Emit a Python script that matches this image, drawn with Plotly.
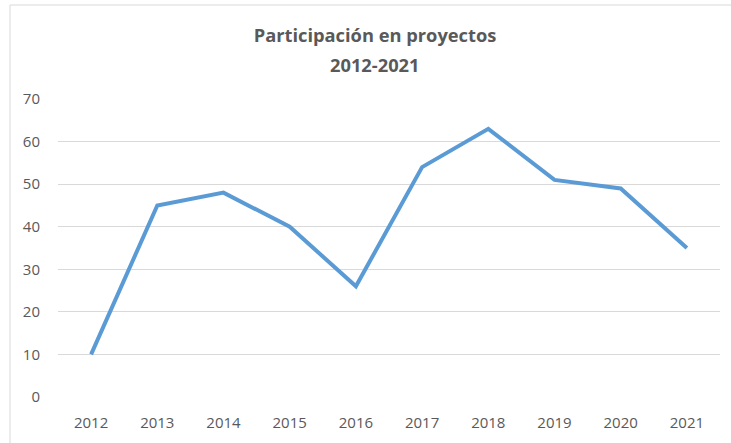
import plotly.graph_objects as go

years = ["2012", "2013", "2014", "2015", "2016", "2017", "2018", "2019", "2020", "2021"]
values = [10, 45, 48, 40, 26, 54, 63, 51, 49, 35]

L, R, T, B = 58, 720, 99, 397
W, H = 731, 443
pw, ph = R - L, B - T

def px(x):
    return (x - L) / pw

def py(y):
    return (B - y) / ph

fig = go.Figure()
fig.add_trace(go.Scatter(x=years, y=values, mode="lines",
                         line=dict(color="#5B9BD5", width=4), hoverinfo="x+y"))

title_font = dict(family="Open Sans, Liberation Sans, sans-serif", size=18.3, color="#595959")

fig.update_layout(
    width=W, height=H,
    margin=dict(l=L, r=W - R, t=T, b=H - B),
    paper_bgcolor="white", plot_bgcolor="white",
    showlegend=False,
    font=dict(family="Open Sans, Liberation Sans, sans-serif", color="#595959", size=15),
    title=dict(text="<b>Participación en proyectos</b>",
               x=375 / W, xanchor="center", y=1 - 36 / H, yanchor="middle",
               font=title_font),
    annotations=[dict(text="<b>2012-2021</b>", xref="paper", yref="paper",
                      x=px(375), y=py(64), xanchor="center", yanchor="middle",
                      showarrow=False, font=title_font)],
    xaxis=dict(type="category", range=[-0.5, 9.5], showgrid=False, showline=False,
               zeroline=False, ticks="outside", ticklen=12, tickcolor="rgba(0,0,0,0)",
               tickfont=dict(size=15, color="#595959")),
    yaxis=dict(range=[0, 70], dtick=10, showgrid=True, gridcolor="#D9D9D9", gridwidth=1,
               zeroline=False, showline=False, ticks="outside", ticklen=14,
               tickcolor="rgba(0,0,0,0)", tickfont=dict(size=15, color="#595959")),
    shapes=[dict(type="rect", xref="paper", yref="paper",
                 x0=px(10), x1=px(745), y0=py(460), y1=py(5),
                 line=dict(color="#D9D9D9", width=1), fillcolor="rgba(0,0,0,0)",
                 layer="below")],
)

fig.write_html("out.html", config={"displayModeBar": False},
               post_script="document.body.style.margin='0';")
